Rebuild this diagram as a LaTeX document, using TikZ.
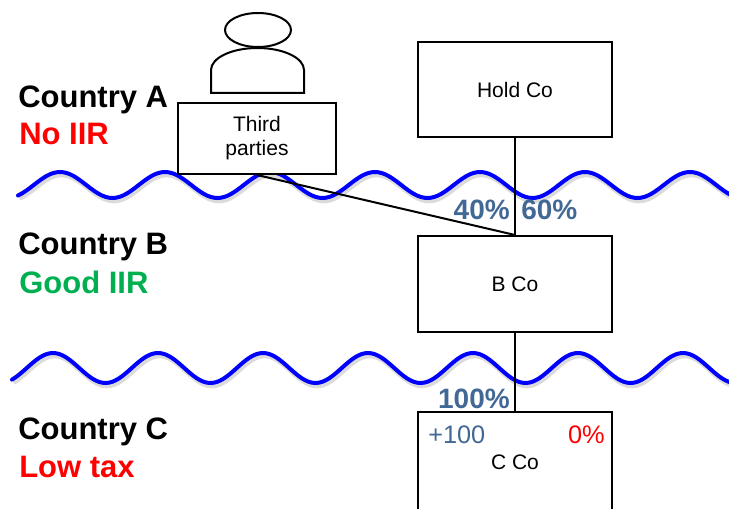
\documentclass[tikz,border=0pt]{standalone}
\usepackage{fontspec}
\setmainfont{Liberation Sans}
\usetikzlibrary{positioning}
\definecolor{pctblue}{RGB}{66,104,150}
\definecolor{goodgreen}{RGB}{0,176,80}

\begin{document}
\begin{tikzpicture}[x=0.75pt,y=-0.75pt,
    entity/.style={draw,line width=1.5pt,fill=white,minimum width=145.5pt,inner sep=0pt,align=center,font=\fontsize{15.75}{18}\selectfont},
    region/.style={anchor=base west,inner sep=0pt,font=\fontsize{23.25}{28}\selectfont\bfseries},
    pct/.style={inner sep=0pt,text=pctblue,font=\fontsize{21}{25}\selectfont\bfseries},
    border/.style={line width=3pt,blue,line cap=round,
      preaction={draw,black,opacity=0.14,line width=3.6pt,transform canvas={shift={(1.1pt,-2.2pt)}}}}]
\useasboundingbox (0,0) rectangle (729,509);
\clip (0,0) rectangle (729,509);

% borders between the countries
\draw[border] (18,195.5) .. controls (23.25,193.1) and (28.5,189.1) .. (33.75,185)
  \foreach \i in {1,...,7}{ sin ++(26.25,-13) cos ++(26.25,13) sin ++(26.25,13) cos ++(26.25,-13)};
\draw[border] (12,379.6) .. controls (16.9,376.8) and (21.85,372.4) .. (26.75,368)
  \foreach \i in {1,...,7}{ sin ++(26.25,-15) cos ++(26.25,15) sin ++(26.25,15) cos ++(26.25,-15)};

% third party icon
\draw[line width=1.5pt,fill=white] (211,93) -- (211,70) arc[start angle=180,end angle=0,x radius=34.875pt,y radius=16.5pt] -- (304,93) -- cycle;
\draw[line width=1.5pt,fill=white] (258,30) ellipse[x radius=24.75pt,y radius=12.75pt];

\node (tp) [entity,minimum width=118.5pt,minimum height=53.25pt] at (257,138.5) {Third\\parties};
\node (hold) [entity,minimum height=71.25pt] at (515,90) {Hold Co};
\node (bco) [entity,minimum height=72pt] at (515,284) {B Co};
\node (cco) [entity,minimum height=75pt,anchor=north] at (515,411) {C Co};

\draw[line width=1.5pt] (hold.south) -- (bco.north);
\draw[line width=1.5pt] (tp.south) -- (bco.north);
\draw[line width=1.5pt] (bco.south) -- (cco.north);

\node (p40) [pct,anchor=base east] at (510,220) {40\%};
\node (p60) [pct,anchor=base west] at (521,220) {60\%};
\node (p100) [pct,anchor=base east] at (510,409) {100\%};
\node (gain) [anchor=base west,inner sep=0pt,text=pctblue,font=\fontsize{19}{23}\selectfont] at (428,444) {+100};
\node (rate) [anchor=base east,inner sep=0pt,text=red,font=\fontsize{19}{23}\selectfont] at (605,444) {0\%};

\node (ctyA) [region] at (18,108) {Country A};
\node (iirA) [region,text=red] at (19,145) {No IIR};
\node (ctyB) [region] at (18,255) {Country B};
\node (iirB) [region,text=goodgreen] at (19,294) {Good IIR};
\node (ctyC) [region] at (18,440) {Country C};
\node (taxC) [region,text=red] at (19,478) {Low tax};
\end{tikzpicture}
\end{document}
